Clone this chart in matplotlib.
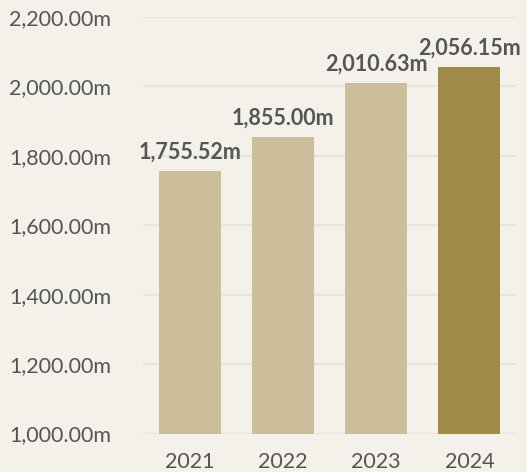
import matplotlib
matplotlib.use("Agg")
import matplotlib.pyplot as plt
from matplotlib.ticker import FuncFormatter

years = ["2021", "2022", "2023", "2024"]
values = [1755.52, 1855.00, 2010.63, 2056.15]
bar_colors = ["#cdbe9b", "#cdbe9b", "#cdbe9b", "#a08a47"]
yticks = [1000, 1200, 1400, 1600, 1800, 2000, 2200]

plt.rcParams['font.family'] = ['Lato', 'DejaVu Sans']
bg = "#f4f1ea"
fig = plt.figure(figsize=(5.27, 4.72), dpi=100, facecolor=bg)
ax = fig.add_axes([143/527, 1 - 433.5/472, (516-143)/527, (433.5-17)/472])
ax.set_facecolor(bg)

x = list(range(len(years)))
bars = ax.bar(x, values, width=0.665, color=bar_colors, zorder=2)
ax.set_xlim(-0.5, 3.5)
ax.set_ylim(1000, 2200)
ax.set_yticks(yticks)
ax.yaxis.set_major_formatter(FuncFormatter(lambda v, p: f"{v:,.2f}m"))
ax.set_xticks(x)
ax.set_xticklabels(years)
ax.grid(axis='y', color='#e6e4df', linewidth=1.5, zorder=0)
for s in ax.spines.values():
    s.set_visible(False)
ax.tick_params(axis='both', length=0, labelsize=15.5, labelcolor='#555555')
ax.tick_params(axis='y', pad=23)
ax.tick_params(axis='x', pad=13)

for xi, v in zip(x, values):
    ax.annotate(f"{v:,.2f}m", (xi, v), xytext=(0, 6), textcoords='offset points',
                ha='center', va='bottom', fontsize=15.5, fontweight='bold',
                color='#555555', zorder=3)

fig.savefig("out.png", dpi=100, facecolor=bg)
